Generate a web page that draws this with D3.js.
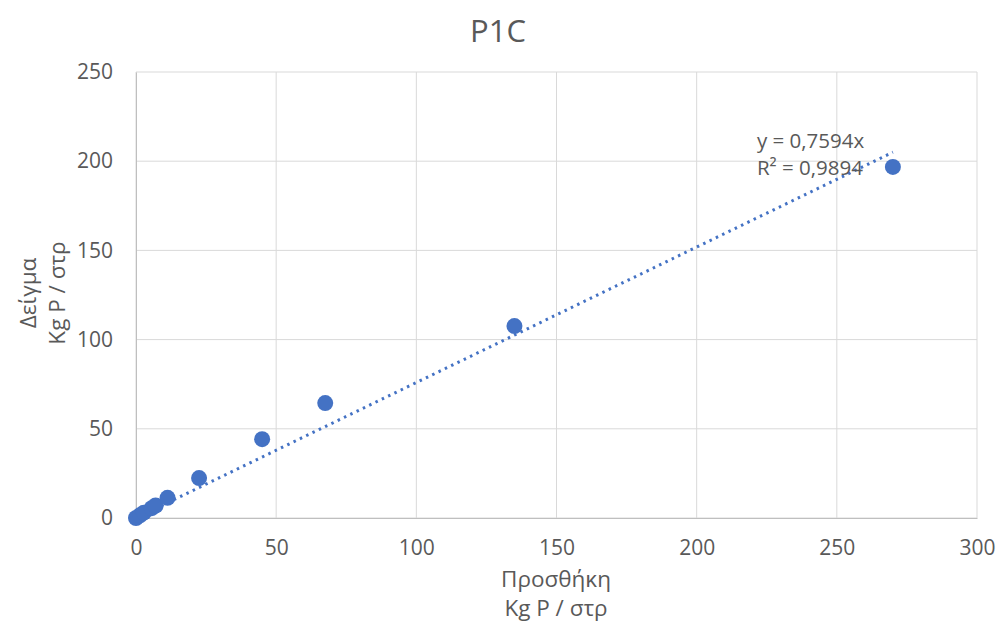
<!DOCTYPE html>
<html>
<head>
<meta charset="utf-8">
<script src="https://cdn.jsdelivr.net/npm/d3@7"></script>
<style>
  body { margin: 0; background: #fff; }
  text { font-family: "Open Sans", "Noto Sans", sans-serif; fill: #595959; }
</style>
</head>
<body>
<div id="chart"></div>
<script>
// --- Data ---
const addedKg = [0, 1.4, 2.8, 5.6, 7, 11.25, 22.5, 45, 67.5, 135, 270];
const sampleKg = [0, 1.5, 3, 5.5, 7, 11.3, 22.4, 44.2, 64.4, 107.6, 196.8];
const slope = 0.7594;
const xTicks = [0, 50, 100, 150, 200, 250, 300];
const yTicks = [0, 50, 100, 150, 200, 250];

const W = 999, H = 626;
const margin = { top: 72, right: 22, bottom: 108, left: 136 };
const width = W - margin.left - margin.right;
const height = H - margin.top - margin.bottom;

const root = d3.select('#chart').append('svg')
    .attr('width', W)
    .attr('height', H);

const svg = root.append('g')
    .attr('transform', `translate(${margin.left},${margin.top})`);

const x = d3.scaleLinear().domain([0, 300]).range([0, width]);
const y = d3.scaleLinear().domain([0, 250]).range([height, 0]);

// --- Title ---
root.append('text')
    .attr('x', 498)
    .attr('y', 42)
    .attr('text-anchor', 'middle')
    .attr('font-size', '31px')
    .text('P1C');

// --- Gridlines ---
svg.selectAll('.gx')
    .data(xTicks)
    .enter().append('line')
    .attr('x1', d => x(d)).attr('x2', d => x(d))
    .attr('y1', 0).attr('y2', height)
    .attr('stroke', '#d9d9d9')
    .attr('stroke-width', 1);

svg.selectAll('.gy')
    .data(yTicks)
    .enter().append('line')
    .attr('x1', 0).attr('x2', width)
    .attr('y1', d => y(d)).attr('y2', d => y(d))
    .attr('stroke', '#d9d9d9')
    .attr('stroke-width', 1);

// --- Axes ---
const xAxis = svg.append('g')
    .attr('transform', `translate(0,${height})`)
    .call(d3.axisBottom(x).tickValues(xTicks).tickSize(0).tickPadding(22));
xAxis.select('.domain').attr('stroke', '#bfbfbf');
xAxis.selectAll('text').attr('font-size', '21px').attr('fill', '#595959')
    .style('font-family', '"Open Sans", sans-serif');

const yAxis = svg.append('g')
    .call(d3.axisLeft(y).tickValues(yTicks).tickSize(0).tickPadding(23));
yAxis.select('.domain').attr('stroke', '#bfbfbf');
yAxis.selectAll('text').attr('font-size', '21px').attr('fill', '#595959')
    .style('font-family', '"Open Sans", sans-serif');

// --- Trendline (dotted) ---
const xMax = d3.max(addedKg);
svg.append('line')
    .attr('x1', x(0)).attr('y1', y(0))
    .attr('x2', x(xMax)).attr('y2', y(slope * xMax))
    .attr('stroke', '#4472c4')
    .attr('stroke-width', 3)
    .attr('stroke-dasharray', '2.5,4.5');

// --- Points ---
svg.selectAll('.pt')
    .data(addedKg.map((d, i) => ({ x: d, y: sampleKg[i] })))
    .enter().append('circle')
    .attr('cx', d => x(d.x))
    .attr('cy', d => y(d.y))
    .attr('r', 8)
    .attr('fill', '#4472c4');

// --- Trendline label ---
const eq = svg.append('text')
    .attr('font-size', '20.5px');
eq.append('tspan').attr('x', x(221.5)).attr('y', y(207.5)).text('y = 0,7594x');
eq.append('tspan').attr('x', x(221.5)).attr('y', y(192)).text('R² = 0,9894');

// --- Axis labels ---
const xl = root.append('text')
    .attr('text-anchor', 'middle')
    .attr('font-size', '22.5px');
xl.append('tspan').attr('x', 556).attr('y', 587).text('Προσθήκη');
xl.append('tspan').attr('x', 556).attr('y', 616).text('Kg P / στρ');

const yl = root.append('text')
    .attr('transform', 'translate(0,293) rotate(-90)')
    .attr('text-anchor', 'middle')
    .attr('font-size', '22.5px');
yl.append('tspan').attr('x', 0).attr('y', 36).text('Δείγμα');
yl.append('tspan').attr('x', 0).attr('y', 65).text('Kg P / στρ');
</script>
</body>
</html>
